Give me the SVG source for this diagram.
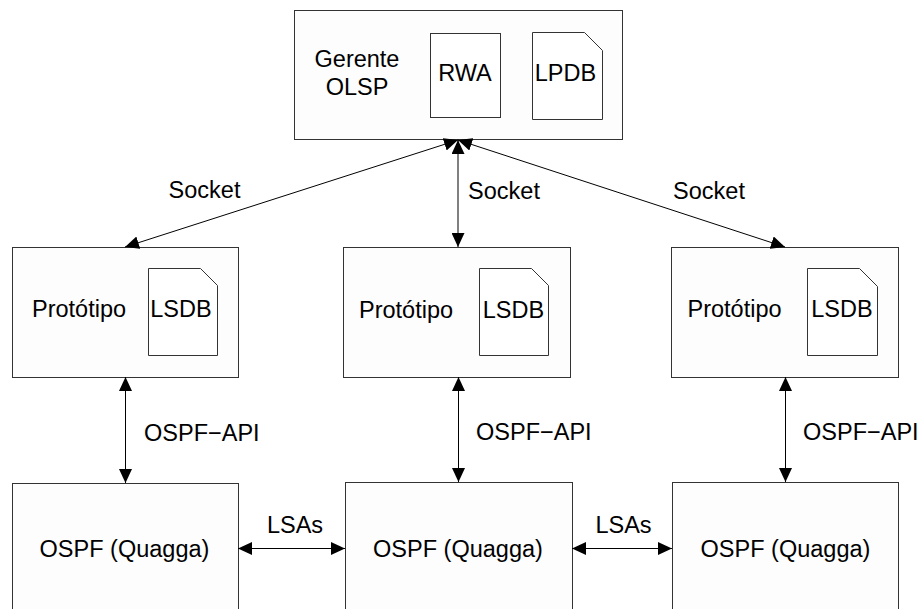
<svg xmlns="http://www.w3.org/2000/svg" width="920" height="609" viewBox="0 0 920 609">
  <style>
    .box { fill: #fdfdfd; stroke: #333; stroke-width: 1; }
    .doc { fill: #ffffff; stroke: #333; stroke-width: 1; }
    .lbl { font-family: "Liberation Sans", Arial, sans-serif; font-size: 23.5px; fill: #000; }
    .mid { text-anchor: middle; }
    .link { fill: none; stroke: #000; stroke-width: 1; marker-start: url(#head); marker-end: url(#head); }
  </style>
  <defs>
    <marker id="head" markerUnits="userSpaceOnUse" markerWidth="14" markerHeight="13" refX="14" refY="6.5" orient="auto-start-reverse">
      <path d="M0,0 L14,6.5 L0,13 Z" fill="#000"/>
    </marker>
  </defs>

  <rect width="920" height="609" fill="#fff"/>

  <!-- manager -->
  <g id="gerente">
    <rect class="box" x="294.5" y="10.5" width="328" height="129"/>
    <text class="lbl mid" x="357" y="67">Gerente</text>
    <text class="lbl mid" x="357" y="95">OLSP</text>
  </g>
  <g id="rwa">
    <rect class="doc" x="430.5" y="33.5" width="70" height="84"/>
    <text class="lbl mid" x="465" y="81">RWA</text>
  </g>
  <g id="lpdb">
    <path class="doc" d="M532.5,32.5 H584.5 L602.5,50.5 V119.5 H532.5 Z"/>
    <text class="lbl mid" x="565.5" y="81">LPDB</text>
  </g>

  <!-- prototypes -->
  <g id="prototipo-1">
    <rect class="box" x="12.5" y="247.5" width="226" height="130"/>
    <text class="lbl mid" x="79" y="317">Protótipo</text>
    <path class="doc" d="M148.5,268.5 H200.5 L217.5,285.5 V355.5 H148.5 Z"/>
    <text class="lbl mid" x="181" y="317">LSDB</text>
  </g>
  <g id="prototipo-2">
    <rect class="box" x="343.5" y="247.5" width="227" height="130"/>
    <text class="lbl mid" x="406" y="318">Protótipo</text>
    <path class="doc" d="M479.5,268.5 H531.5 L548.5,285.5 V355.5 H479.5 Z"/>
    <text class="lbl mid" x="513.5" y="318">LSDB</text>
  </g>
  <g id="prototipo-3">
    <rect class="box" x="671.5" y="247.5" width="227" height="130"/>
    <text class="lbl mid" x="734.5" y="317">Protótipo</text>
    <path class="doc" d="M807.5,268.5 H859.5 L877.5,286.5 V355.5 H807.5 Z"/>
    <text class="lbl mid" x="842" y="317">LSDB</text>
  </g>

  <!-- OSPF daemons -->
  <g id="ospf-1">
    <rect class="box" x="12.5" y="483.5" width="226" height="140"/>
    <text class="lbl mid" x="124.5" y="557">OSPF (Quagga)</text>
  </g>
  <g id="ospf-2">
    <rect class="box" x="345.5" y="482.5" width="227" height="140"/>
    <text class="lbl mid" x="458" y="557">OSPF (Quagga)</text>
  </g>
  <g id="ospf-3">
    <rect class="box" x="672.5" y="482.5" width="226" height="140"/>
    <text class="lbl mid" x="785.5" y="557">OSPF (Quagga)</text>
  </g>

  <!-- connectors -->
  <g id="connectors">
    <line class="link" x1="458" y1="140" x2="125" y2="247"/>
    <line class="link" x1="458" y1="140" x2="458" y2="247"/>
    <line class="link" x1="458" y1="140" x2="785" y2="247"/>
    <line class="link" x1="125.5" y1="377" x2="125.5" y2="483"/>
    <line class="link" x1="458.5" y1="377" x2="458.5" y2="482"/>
    <line class="link" x1="785.5" y1="377" x2="785.5" y2="482"/>
    <line class="link" x1="238" y1="548.5" x2="345" y2="548.5"/>
    <line class="link" x1="572" y1="548.5" x2="672" y2="548.5"/>

    <text class="lbl mid" x="204.5" y="198">Socket</text>
    <text class="lbl mid" x="504" y="199">Socket</text>
    <text class="lbl mid" x="709" y="199">Socket</text>
    <text class="lbl" x="144" y="441">OSPF−API</text>
    <text class="lbl" x="476" y="440">OSPF−API</text>
    <text class="lbl" x="803" y="440">OSPF−API</text>
    <text class="lbl mid" x="295" y="533">LSAs</text>
    <text class="lbl mid" x="623.5" y="533">LSAs</text>
  </g>
</svg>
